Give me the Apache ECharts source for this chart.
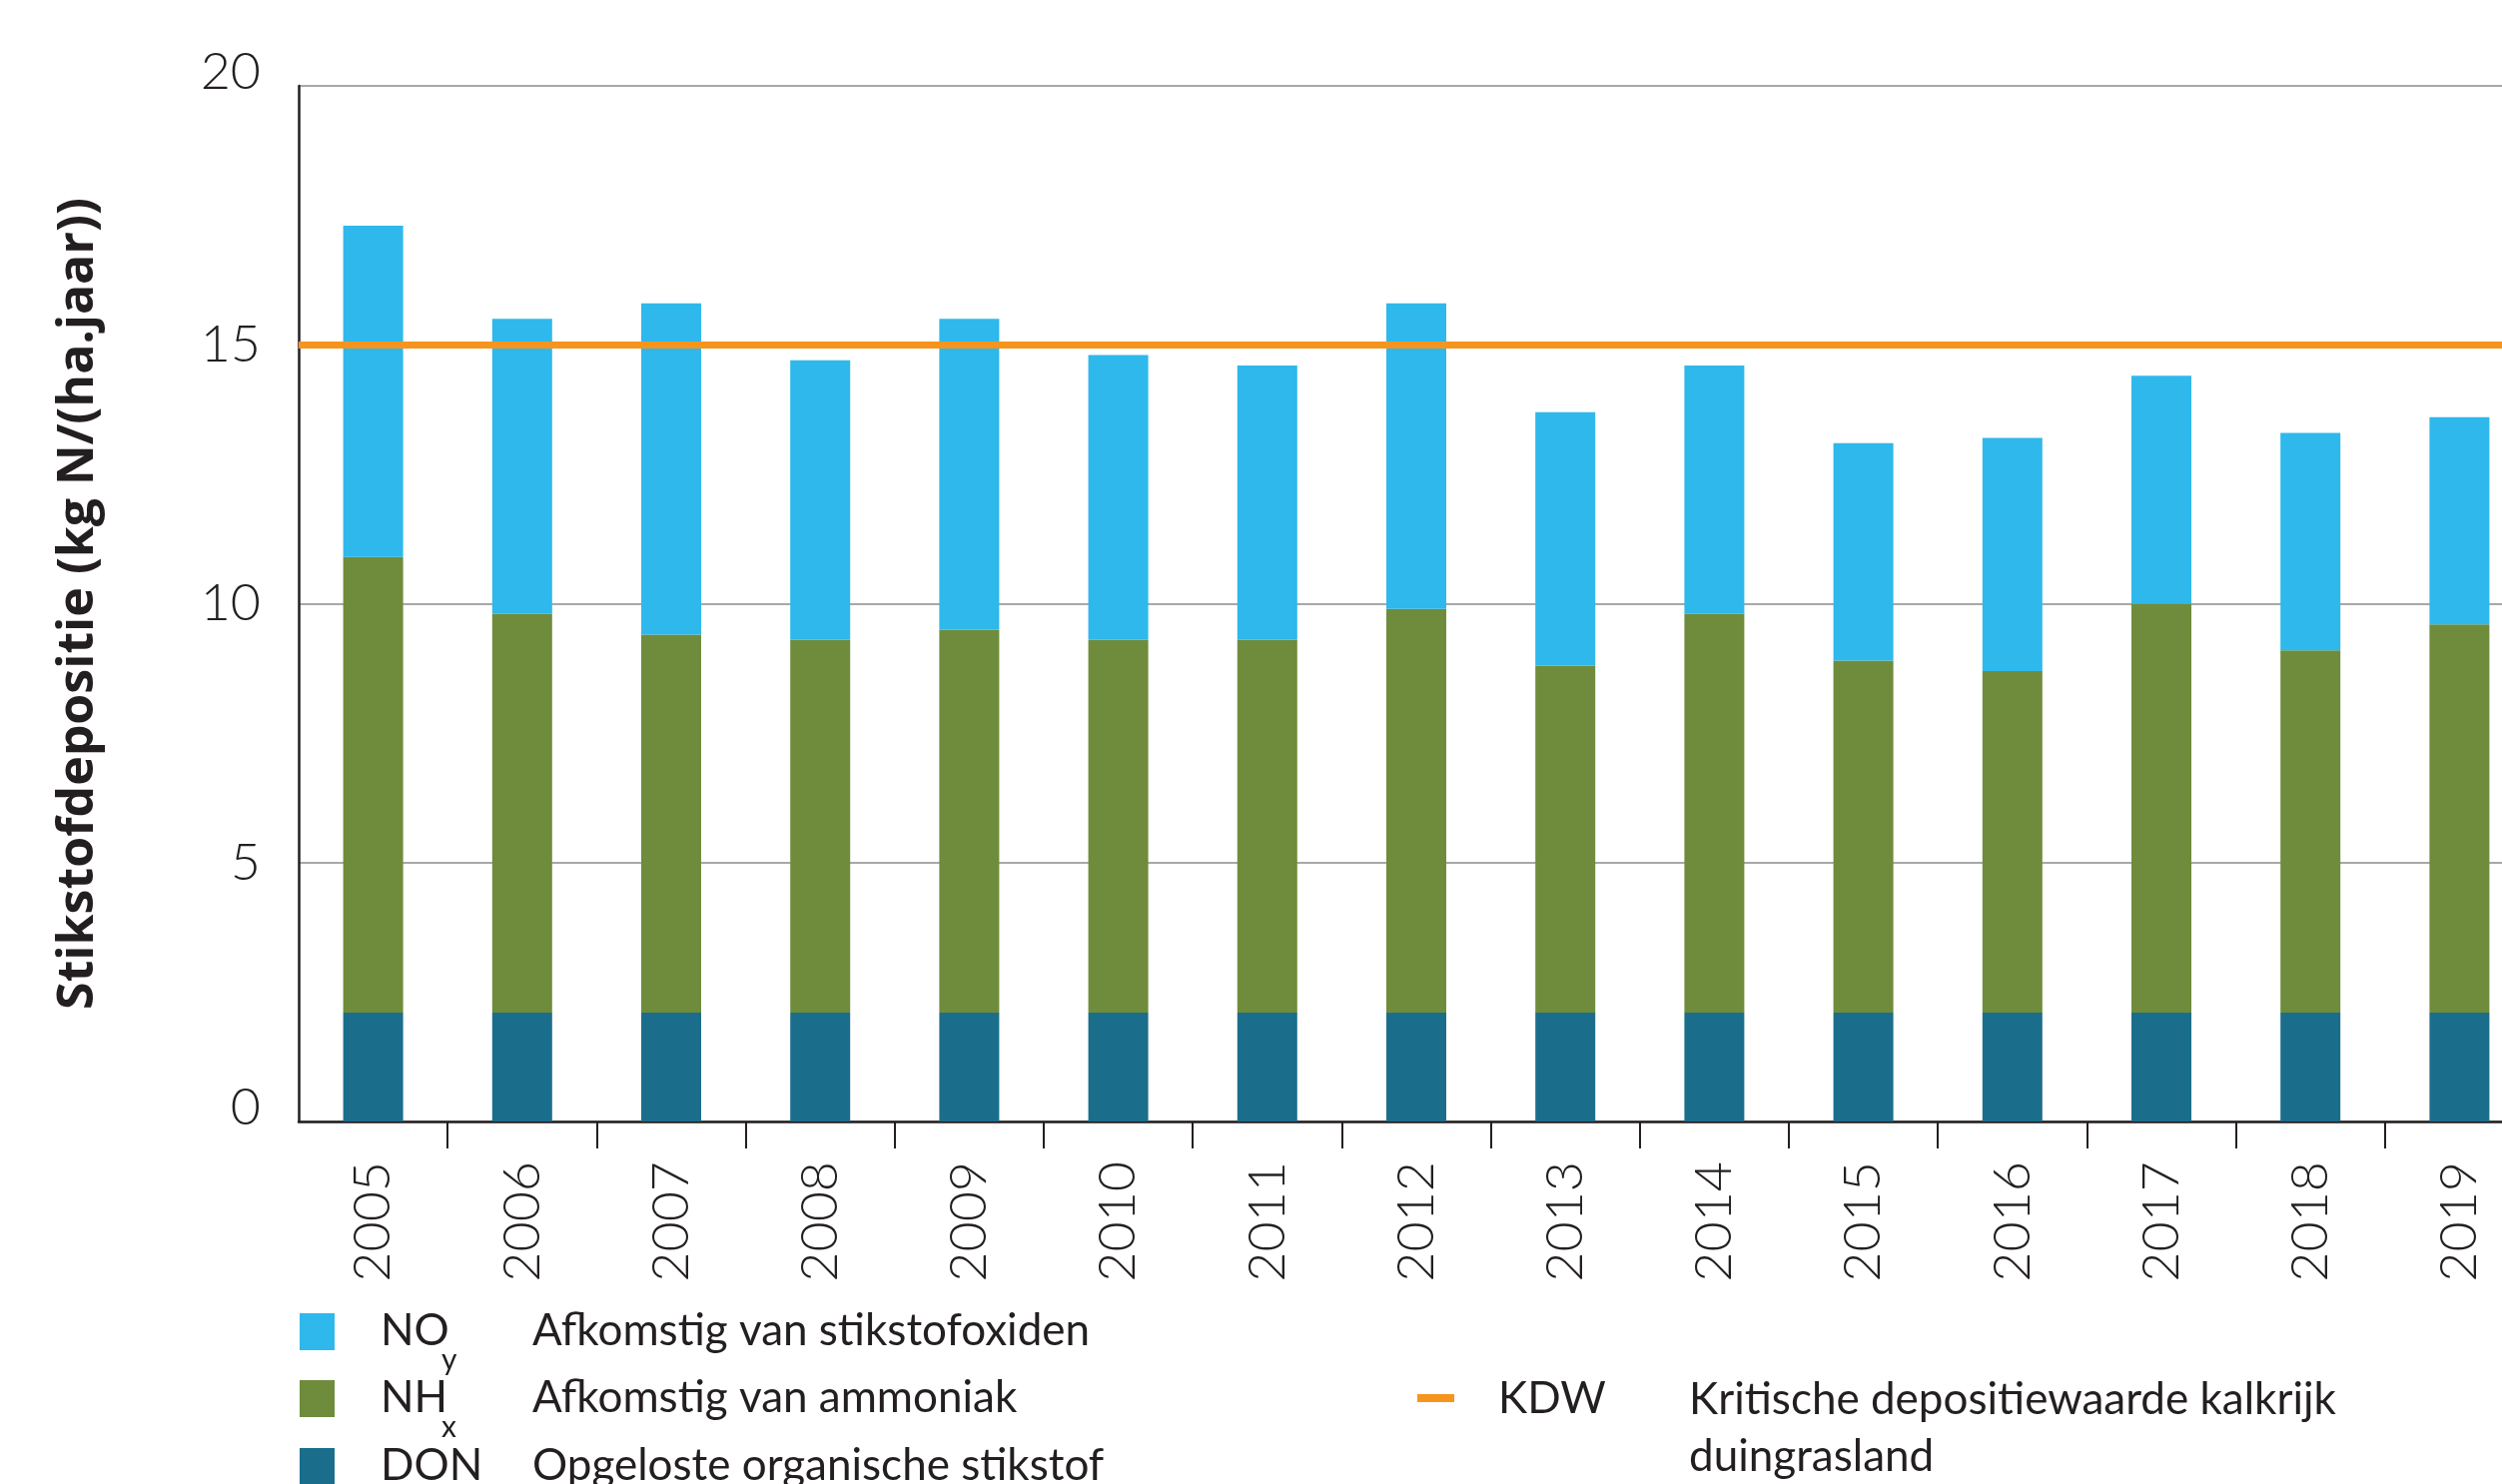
<!DOCTYPE html>
<html>
<head>
<meta charset="utf-8">
<script src="https://cdn.jsdelivr.net/npm/echarts@6/dist/echarts.min.js"></script>
<style>
  html, body { margin: 0; padding: 0; background: #ffffff; }
  #chart { width: 2505px; height: 1486px; }
</style>
</head>
<body>
<div id="chart"></div>
<script>
// data (kg N / ha.jaar)
const years = ['2005', '2006', '2007', '2008', '2009', '2010', '2011', '2012',
  '2013', '2014', '2015', '2016', '2017', '2018', '2019'];
const donValues = [2.1, 2.1, 2.1, 2.1, 2.1, 2.1, 2.1, 2.1, 2.1, 2.1, 2.1, 2.1, 2.1, 2.1, 2.1];
const nhxValues = [8.8, 7.7, 7.3, 7.2, 7.4, 7.2, 7.2, 7.8, 6.7, 7.7, 6.8, 6.6, 7.9, 7.0, 7.5];
const noyValues = [6.4, 5.7, 6.4, 5.4, 6.0, 5.5, 5.3, 5.9, 4.9, 4.8, 4.2, 4.5, 4.4, 4.2, 4.0];
const kdwValue = 15;
const yMin = 0;
const yMax = 20;
const yStep = 5;

const seriesNames = ['DON', 'NHx', 'NOy'];
const legendRows = [
  ['NO', 'y', 'Afkomstig van stikstofoxiden'],
  ['NH', 'x', 'Afkomstig van ammoniak'],
  ['DON', '', 'Opgeloste organische stikstof'],
];
const kdwLegend = ['KDW', 'Kritische depositiewaarde kalkrijk\nduingrasland'];
const yTitle = 'Stikstofdepositie (kg N/(ha.jaar))';

const colors = { noy: '#2eb8eb', nhx: '#6e8c3b', don: '#1b6e8b', kdw: '#f7941d' };
const ink = '#231f20';
const font = 'Lato, "Open Sans", sans-serif';

const chart = echarts.init(document.getElementById('chart'), null, { renderer: 'canvas' });

function legendGraphics() {
  const out = [];
  const fills = [colors.noy, colors.nhx, colors.don];
  const rowY = [1333, 1400, 1468];
  legendRows.forEach(([sym, sub, desc], i) => {
    out.push({ type: 'rect', shape: { x: 300, y: rowY[i] - 18, width: 35, height: 37 }, style: { fill: fills[i] } });
    out.push({ type: 'text', x: 381, y: rowY[i], style: { text: sym, font: `44px ${font}`, fill: ink, verticalAlign: 'middle' } });
    if (sub) {
      out.push({ type: 'text', x: 442, y: rowY[i] + 29, style: { text: sub, font: `30px ${font}`, fill: ink, verticalAlign: 'middle' } });
    }
    out.push({ type: 'text', x: 533, y: rowY[i], style: { text: desc, font: `44px ${font}`, fill: ink, verticalAlign: 'middle' } });
  });
  out.push({ type: 'rect', shape: { x: 1419, y: 1396, width: 37, height: 8 }, style: { fill: colors.kdw } });
  out.push({ type: 'text', x: 1500, y: 1401, style: { text: kdwLegend[0], font: `44px ${font}`, fill: ink, verticalAlign: 'middle' } });
  out.push({ type: 'text', x: 1691, y: 1373, style: { text: kdwLegend[1], font: `44px ${font}`, fill: ink, verticalAlign: 'top', lineHeight: 57 } });
  return out;
}

chart.setOption({
  animation: false,
  backgroundColor: '#ffffff',
  grid: { left: 299, top: 86, height: 1037, width: 2238, outerBoundsMode: 'none' },
  xAxis: {
    type: 'category',
    data: years,
    boundaryGap: true,
    axisLine: { lineStyle: { color: ink, width: 2.5 } },
    axisTick: { show: true, length: 27, interval: (i) => i !== 0, lineStyle: { color: ink, width: 2 } },
    axisLabel: { rotate: 90, margin: 40, color: ink, fontSize: 52, fontFamily: font, fontWeight: 300 },
  },
  yAxis: {
    type: 'value',
    min: yMin,
    max: yMax,
    interval: yStep,
    name: yTitle,
    nameLocation: 'middle',
    nameGap: 195,
    nameTextStyle: { color: ink, fontSize: 50, fontWeight: 'bold', fontFamily: '"Open Sans", Lato, sans-serif' },
    axisLine: { show: true, lineStyle: { color: ink, width: 2.5 } },
    axisTick: { show: false },
    axisLabel: {
      margin: 38, color: ink, fontSize: 52, fontFamily: font, fontWeight: 300,
      // end labels sit a little above their lines in the reference
      formatter: (v) => (v === yMin || v === yMax ? `{e|${v}}` : `${v}`),
      rich: { e: { fontSize: 52, fontFamily: font, fontWeight: 300, color: ink, padding: [0, 0, 28, 0] } },
    },
    splitLine: { lineStyle: { color: '#a8a8a8', width: 2 } },
  },
  series: [
    { name: seriesNames[0], type: 'bar', stack: 'n', barWidth: 60, data: donValues, itemStyle: { color: colors.don } },
    { name: seriesNames[1], type: 'bar', stack: 'n', barWidth: 60, data: nhxValues, itemStyle: { color: colors.nhx } },
    {
      name: seriesNames[2], type: 'bar', stack: 'n', barWidth: 60, data: noyValues, itemStyle: { color: colors.noy },
      markLine: {
        silent: true,
        symbol: ['none', 'none'],
        label: { show: false },
        lineStyle: { color: colors.kdw, width: 7, type: 'solid' },
        data: [{ yAxis: kdwValue }],
      },
    },
  ],
  graphic: legendGraphics(),
});
</script>
</body>
</html>
